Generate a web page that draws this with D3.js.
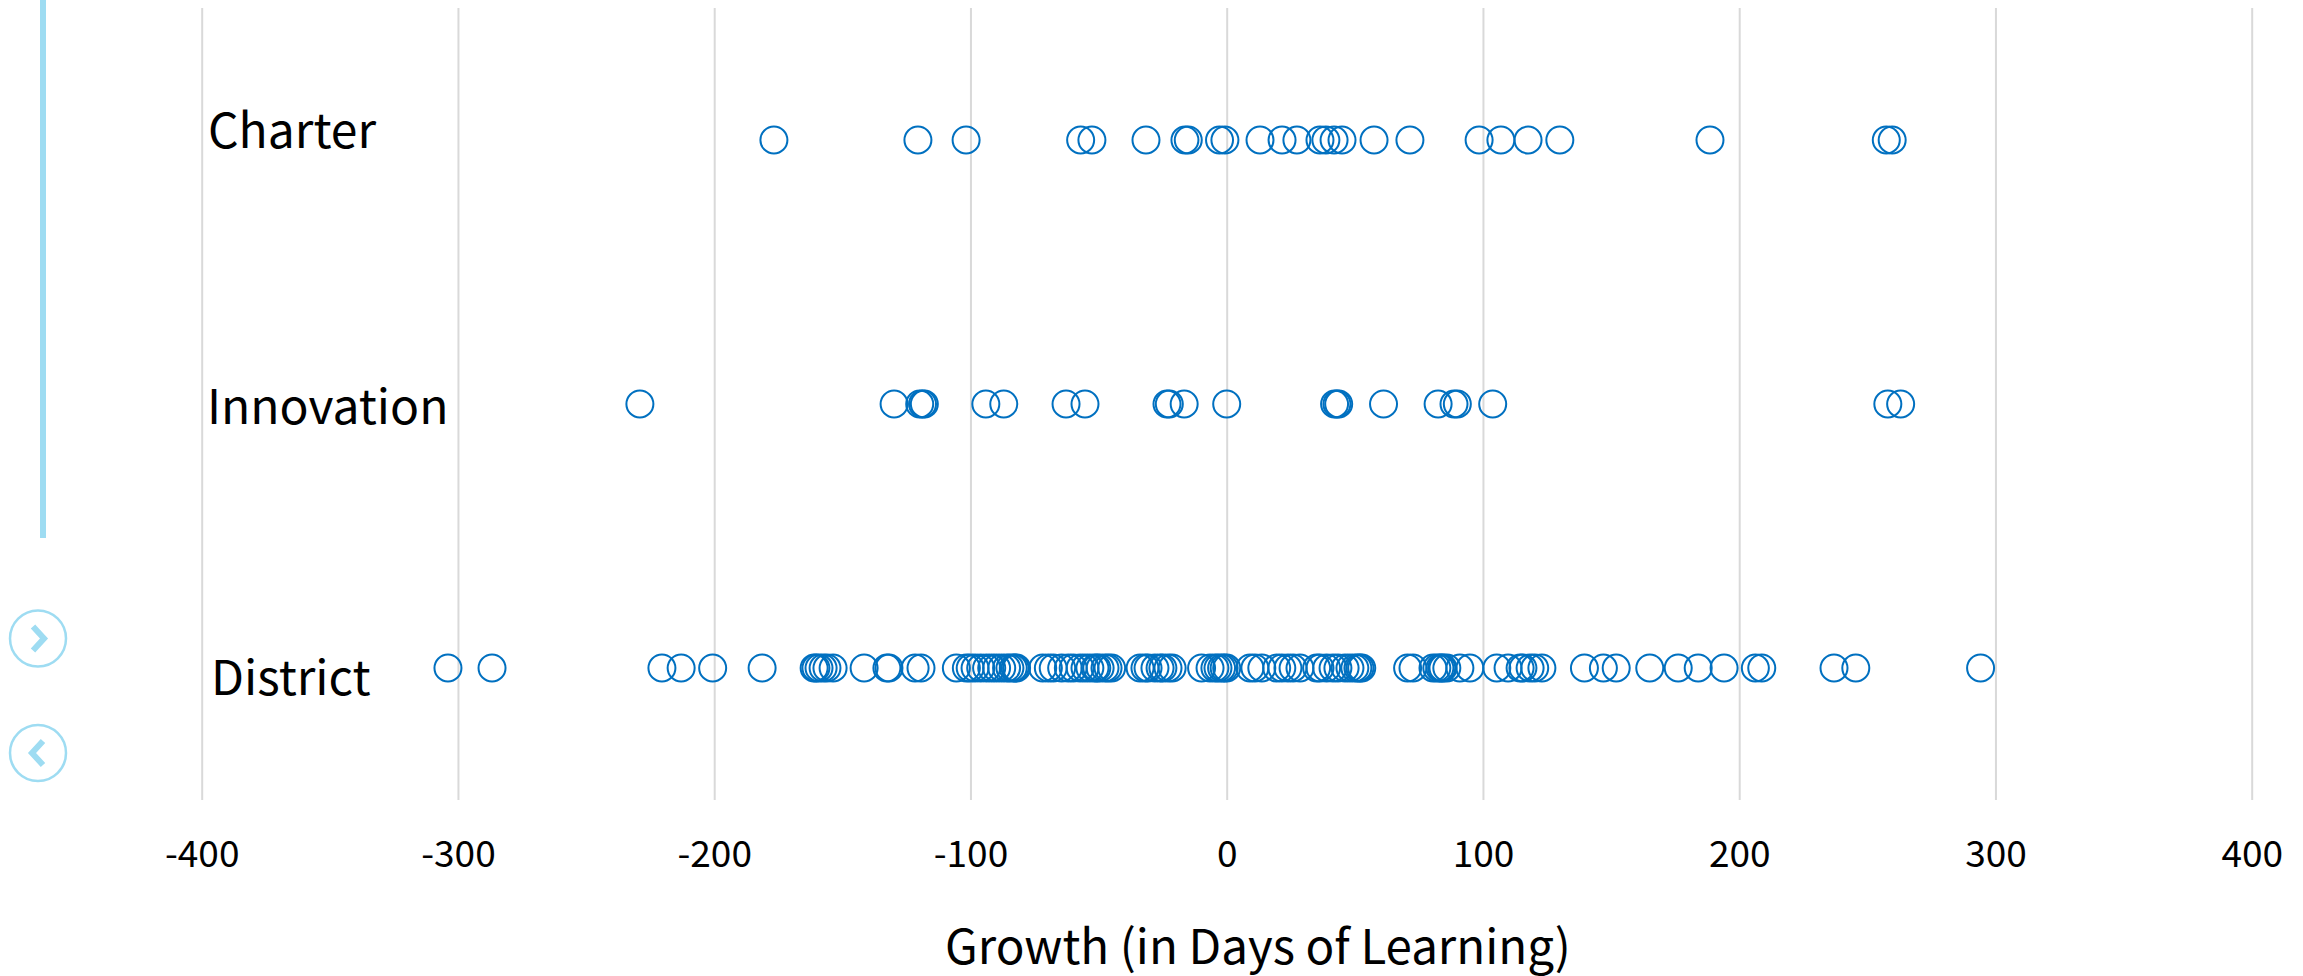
<!DOCTYPE html>
<html><head><meta charset="utf-8">
<script src="https://cdn.jsdelivr.net/npm/d3@7/dist/d3.min.js"></script>
<style>html,body{margin:0;padding:0;background:#fff}svg{display:block}text{font-family:"Noto Sans CJK SC","Noto Sans",sans-serif}</style>
</head><body><svg id="c" width="2303" height="976"></svg>
<script>
const categories = ["Charter","Innovation","District"];
const tickValues = [-400,-300,-200,-100,0,100,200,300,400];
const axisTitle = "Growth (in Days of Learning)";
const charter = [-176.7,-120.5,-101.7,-57,-52.6,-31.5,-16.3,-15,-2.8,-0.7,13,21.6,27.4,36.4,38.7,41.9,45,57.5,71.5,98.5,107,117.6,130,188.6,257.4,259.7];
const innovation = [-229,-129.8,-119.8,-118.7,-118,-94,-87,-62.7,-55.3,-23.3,-22.4,-16.6,0,42.1,43,43.7,61.2,82.5,88.7,90,103.8,258,263];
const district = [-303.9,-286.7,-220.4,-212.9,-200.6,-181.3,-161,-160.3,-159.1,-157.5,-156,-153.6,-141.5,-132.6,-131.8,-121.6,-119.3,
-105.5,-101.6,-100.1,-98.2,-96,-93.7,-91.7,-89.8,-87.8,-85.9,-84.6,-83.3,-82.6,-82,-71.8,-69.6,-67.7,-64.4,-61.8,-59.9,-57.2,-55.3,-53.4,-51.4,-50.7,-49.4,-47.5,-46.3,-44.9,
-33.8,-31.9,-30.7,-28,-26,-24.9,-22.9,-21.3,-9.8,-6.5,-4.6,-3.4,-2,-1,0,9.1,11,13.7,19.5,21.5,23.9,25.9,28.6,35.1,36.4,39,41.5,43.4,46.2,48.1,50,51.2,52,52.7,
70.6,72.7,80.5,82,83.2,83.9,84.4,85.9,91,94.9,105.4,109.8,114.5,115.6,118.4,120.2,123,139.6,147,152,165.1,176.2,184,194.1,206.3,208.8,237,245.5,294.2];
const seriesValues = [charter, innovation, district];

const labelLayout = {Charter:{x:208,y:148},Innovation:{x:207,y:424},District:{x:211,y:695}};
const svg = d3.select("#c");
const x = d3.scaleLinear().domain([-400,400]).range([201.7,2251.7]);
const y = d3.scalePoint().domain(categories).range([140,668]);

svg.append("rect").attr("x",40).attr("y",0).attr("width",6).attr("height",538).attr("fill","#9edcf2");

const axis = d3.axisBottom(x).tickValues(tickValues).tickFormat(d=>String(d)).tickSize(792).tickPadding(41);
const ag = svg.append("g").attr("transform","translate(0,8)").call(axis);
ag.select(".domain").remove();
ag.selectAll("line").attr("stroke","#d9d9d9").attr("stroke-width",2);
ag.selectAll("text").attr("font-size",37).attr("fill","#000").attr("font-family",'"Noto Sans CJK SC"');

categories.forEach((c,i)=>{
  svg.append("g").selectAll("circle").data(seriesValues[i]).join("circle")
    .attr("cx",d=>x(d)).attr("cy",y(c)).attr("r",13.5)
    .attr("fill","none").attr("stroke","#0070c0").attr("stroke-width",2);
});
svg.append("g").selectAll("text").data(categories).join("text")
  .attr("x",d=>labelLayout[d].x).attr("y",d=>labelLayout[d].y)
  .attr("font-size",48).attr("fill","#000").text(d=>d);

svg.append("text").attr("x",1258).attr("y",964).attr("text-anchor","middle").attr("font-size",47.5).attr("fill","#000").text(axisTitle);

[{cy:638.5,p:"M-5,-12L6,0L-5,12"},{cy:753,p:"M5,-12L-6,0L5,12"}].forEach(b=>{
  const g = svg.append("g").attr("transform",`translate(38,${b.cy})`);
  g.append("circle").attr("r",28).attr("fill","#fff").attr("stroke","#9edcf2").attr("stroke-width",2.5);
  g.append("path").attr("d",b.p).attr("fill","none").attr("stroke","#9edcf2").attr("stroke-width",6);
});
</script></body></html>
